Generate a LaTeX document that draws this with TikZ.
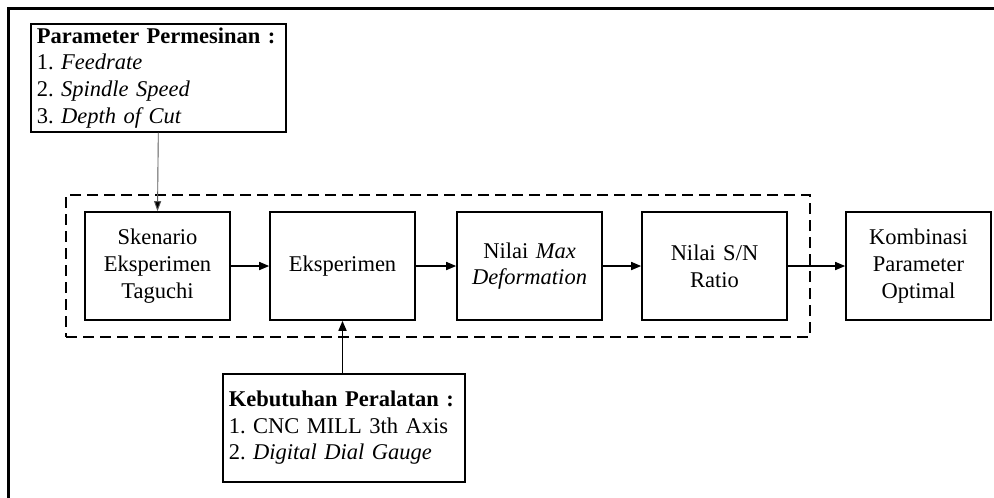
\documentclass[tikz,border=0pt]{standalone}
\usepackage{fontspec}
\setmainfont{Liberation Serif}
\usetikzlibrary{arrows.meta}
\frenchspacing
\begin{document}
\begin{tikzpicture}[x=1pt,y=-1pt,
  txt/.style={font=\fontsize{22.5}{26.7}\selectfont},
  blk/.style={txt, draw, line width=1.6pt, minimum width=145pt, minimum height=108pt, align=center, inner sep=0pt, text width=140pt},
  infobox/.style={txt, draw, line width=1.6pt, align=left, inner xsep=6pt, inner ysep=0pt, minimum height=108pt, anchor=north west},
  grpbox/.style={draw, line width=1.6pt, dash pattern=on 11pt off 6pt, minimum width=744pt, minimum height=142pt, inner sep=0pt},
  arr/.style={line width=1.6pt, -{Triangle[length=10pt,width=8pt]}},
  thinarr/.style={line width=0.9pt, draw=black!65, -{Triangle[length=10pt,width=7pt,fill=black]}}
]
\useasboundingbox (0,0) rectangle (994,498);
\draw[line width=3pt] (8,498) -- (8,8) -- (994,8);

\node[grpbox] (grp) at (438,266) {};

\node[blk] (sken) at (157.5,266) {Skenario\\Eksperimen\\Taguchi};
\node[blk] (eksp) at (342.5,266) {Eksperimen};
\node[blk] (maxd) at (529.5,266) {Nilai \textit{Max}\\\textit{Deformation}};
\node[blk] (snr) at (714.5,266) {Nilai S/N\\Ratio};
\node[blk] (komb) at (918.5,266) {Kombinasi\\Parameter\\Optimal};

\node[infobox, text width=243pt] (param) at (30,23)
  {\textbf{Parameter Permesinan :}\\1. \textit{Feedrate}\\2. \textit{Spindle Speed}\\3. \textit{Depth of Cut}};
\node[infobox, text width=230pt] (keb) at (222,373)
  {\textbf{Kebutuhan Peralatan :}\\1. CNC MILL 3th Axis\\2. \textit{Digital Dial Gauge}};

\draw[arr] (sken) -- (eksp);
\draw[arr] (eksp) -- (maxd);
\draw[arr] (maxd) -- (snr);
\draw[arr] (snr) -- (komb);
\draw[thinarr] (param.south) -- (sken.north);
\draw[arr] (keb.north -| eksp.south) -- (eksp.south);
\end{tikzpicture}
\end{document}
